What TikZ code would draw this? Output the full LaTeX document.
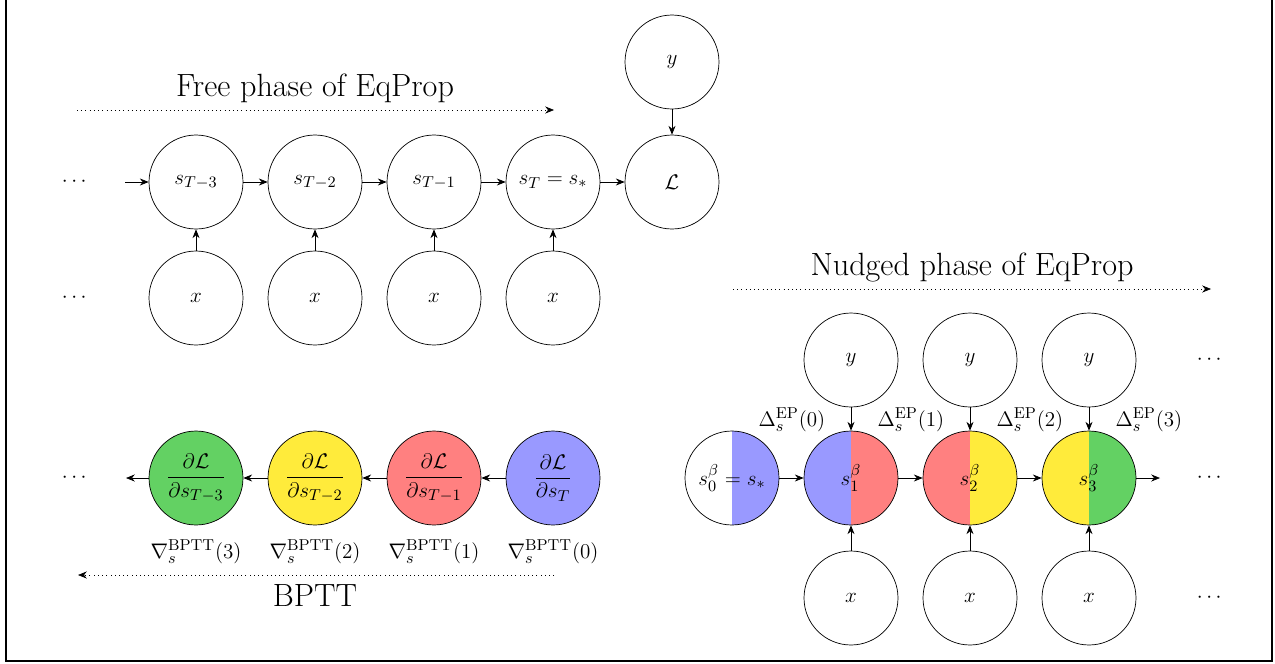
\documentclass[tikz,border=0pt]{standalone}
\usepackage{amsmath}
\usetikzlibrary{arrows.meta}
\definecolor{gblue}{RGB}{153,153,255}
\definecolor{gred}{RGB}{255,128,128}
\definecolor{gyellow}{RGB}{255,235,59}
\definecolor{ggreen}{RGB}{99,209,99}
\begin{document}
\begin{tikzpicture}[x=0.02cm,y=-0.02cm,
  unit/.style={circle,draw,minimum size=1.88cm,inner sep=0pt,font=\fontsize{12.6}{15}\selectfont},
  halves/.style 2 args={path picture={
      \fill[#1] (path picture bounding box.south west) rectangle (path picture bounding box.north);
      \fill[#2] (path picture bounding box.south) rectangle (path picture bounding box.north east);}},
  link/.style={-{Stealth[length=5pt,width=4pt]}},
  phase/.style={dotted,-{Stealth[length=5pt,width=4pt]}},
  title/.style={font=\fontsize{18.3}{22}\selectfont},
  lab/.style={inner sep=1pt,font=\fontsize{13}{16}\selectfont},
  dots/.style={font=\large}]
\useasboundingbox (0,0) rectangle (1275,663);
\draw[line width=0.8pt] (6,0) -- (6,661) -- (1272,661) -- (1272,0);

% ---------------- free phase ----------------
\node[title] (freeT) at (315,88) {Free phase of EqProp};
\coordinate (fa) at (77,110);
\coordinate (fb) at (554,110);
\draw[phase] (fa) -- (fb);

\node[dots] (dA) at (76,182) {$\cdots$};
\node[dots] (dB) at (76,298) {$\cdots$};
\coordinate (inA) at (125,182);

\node[unit] (s3) at (196,182) {$s_{T-3}$};
\node[unit] (s2) at (315,182) {$s_{T-2}$};
\node[unit] (s1) at (434,182) {$s_{T-1}$};
\node[unit] (s0) at (553,182) {$s_T = s_*$};
\node[unit] (L)  at (672,182) {$\mathcal{L}$};
\node[unit] (yL) at (672,62)  {$y$};

\node[unit] (x3) at (196,298) {$x$};
\node[unit] (x2) at (315,298) {$x$};
\node[unit] (x1) at (434,298) {$x$};
\node[unit] (x0) at (553,298) {$x$};

\draw[link] (inA) -- (s3);
\draw[link] (s3) -- (s2);
\draw[link] (s2) -- (s1);
\draw[link] (s1) -- (s0);
\draw[link] (s0) -- (L);
\draw[link] (yL) -- (L);
\draw[link] (x3) -- (s3);
\draw[link] (x2) -- (s2);
\draw[link] (x1) -- (s1);
\draw[link] (x0) -- (s0);

% ---------------- BPTT ----------------
\node[dots] (dC) at (76,478) {$\cdots$};
\coordinate (outB) at (126,478);

\node[unit,fill=ggreen]  (g3) at (196,478) {$\dfrac{\partial\mathcal{L}}{\partial s_{T-3}}$};
\node[unit,fill=gyellow] (g2) at (315,478) {$\dfrac{\partial\mathcal{L}}{\partial s_{T-2}}$};
\node[unit,fill=gred]    (g1) at (434,478) {$\dfrac{\partial\mathcal{L}}{\partial s_{T-1}}$};
\node[unit,fill=gblue]   (g0) at (553,478) {$\dfrac{\partial\mathcal{L}}{\partial s_{T}}$};

\draw[link] (g0) -- (g1);
\draw[link] (g1) -- (g2);
\draw[link] (g2) -- (g3);
\draw[link] (g3) -- (outB);

\node[lab] (b3) at (196,552) {$\nabla_s^{\mathrm{BPTT}}(3)$};
\node[lab] (b2) at (315,552) {$\nabla_s^{\mathrm{BPTT}}(2)$};
\node[lab] (b1) at (434,552) {$\nabla_s^{\mathrm{BPTT}}(1)$};
\node[lab] (b0) at (553,552) {$\nabla_s^{\mathrm{BPTT}}(0)$};

\coordinate (ba) at (554,575);
\coordinate (bb) at (78,575);
\draw[phase] (ba) -- (bb);
\node[title] (bpttT) at (315,596) {BPTT};

% ---------------- nudged phase ----------------
\node[title] (nudT) at (972,267) {Nudged phase of EqProp};
\coordinate (na) at (733,289);
\coordinate (nb) at (1211,289);
\draw[phase] (na) -- (nb);

\node[unit,halves={white}{gblue}]   (n0) at (732,478)  {$s_0^\beta = s_*$};
\node[unit,halves={gblue}{gred}]    (n1) at (851,478)  {$s_1^\beta$};
\node[unit,halves={gred}{gyellow}]  (n2) at (970,478)  {$s_2^\beta$};
\node[unit,halves={gyellow}{ggreen}](n3) at (1089,478) {$s_3^\beta$};
\coordinate (outN) at (1160,478);

\node[unit] (y1) at (851,360)  {$y$};
\node[unit] (y2) at (970,360)  {$y$};
\node[unit] (y3) at (1089,360) {$y$};
\node[unit] (u1) at (851,598)  {$x$};
\node[unit] (u2) at (970,598)  {$x$};
\node[unit] (u3) at (1089,598) {$x$};

\node[dots] (dD) at (1211,360) {$\cdots$};
\node[dots] (dE) at (1211,478) {$\cdots$};
\node[dots] (dF) at (1211,598) {$\cdots$};

\draw[link] (n0) -- (n1);
\draw[link] (n1) -- (n2);
\draw[link] (n2) -- (n3);
\draw[link] (n3) -- (outN);
\draw[link] (y1) -- (n1);
\draw[link] (y2) -- (n2);
\draw[link] (y3) -- (n3);
\draw[link] (u1) -- (n1);
\draw[link] (u2) -- (n2);
\draw[link] (u3) -- (n3);

\node[lab] (e0) at (792,420)  {$\Delta_s^{\mathrm{EP}}(0)$};
\node[lab] (e1) at (911,420)  {$\Delta_s^{\mathrm{EP}}(1)$};
\node[lab] (e2) at (1030,420) {$\Delta_s^{\mathrm{EP}}(2)$};
\node[lab] (e3) at (1149,420) {$\Delta_s^{\mathrm{EP}}(3)$};
\end{tikzpicture}
\end{document}
